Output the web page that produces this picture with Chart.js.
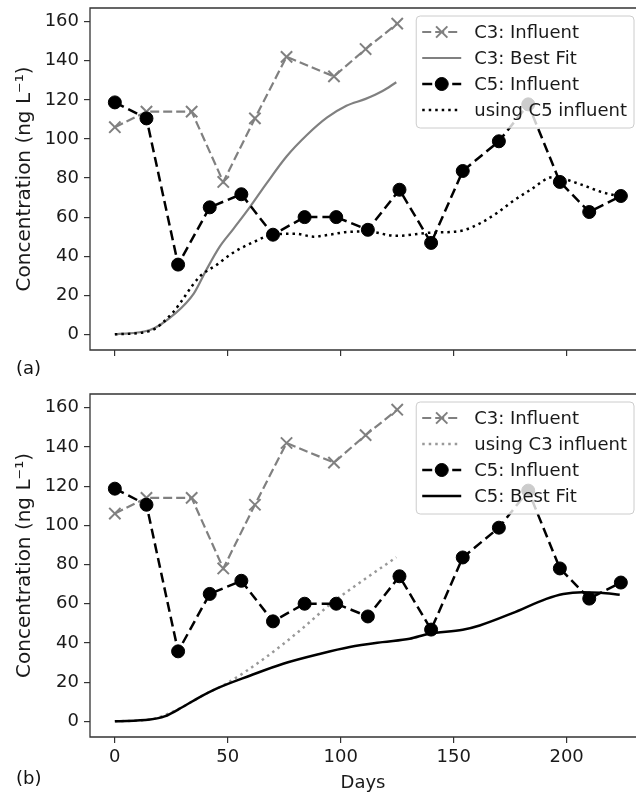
<!DOCTYPE html>
<html>
<head>
<meta charset="utf-8">
<script src="https://cdn.jsdelivr.net/npm/chart.js@4.4.0/dist/chart.umd.min.js"></script>
<style>
  html, body { margin: 0; padding: 0; background: #fff; overflow: hidden; }
  #wrap { position: relative; width: 636px; height: 796px; overflow: hidden; }
  canvas { position: absolute; left: 0; }
  #topChart { top: 0; }
  #botChart { top: 386px; }
  .panel { position: absolute; left: 16px; font: 18px 'DejaVu Sans'; color: #111; line-height: 21px; }
</style>
</head>
<body>
<div id="wrap">
  <canvas id="topChart" width="636" height="386"></canvas>
  <canvas id="botChart" width="636" height="410"></canvas>
  <div class="panel" style="top:357px">(a)</div>
  <div class="panel" style="top:767px">(b)</div>
</div>
<script>
// measured influent concentrations (ng/L) by sampling day
const c3Days = [0, 14, 34, 48, 62, 76, 97, 111, 125];
const c3Influent = [106, 114, 114, 78, 110.5, 142, 132, 146, 159];
const c5Days = [0, 14, 28, 42, 56, 70, 84, 98, 112, 126, 140, 154, 170, 183, 197, 210, 224];
const c5Influent = [118.7, 110.5, 35.7, 65, 71.7, 51, 60, 60, 53.5, 74, 46.8, 83.6, 98.8, 117.7, 78, 62.6, 70.8];

// model curves
const c3FitDays = [0, 15.5, 27, 35, 40.5, 46.5, 52.5, 60, 67, 76, 85, 94, 102.5, 111, 118.5, 124.6];
const c3Fit = [0, 2.2, 11, 21, 33, 45, 54, 65.5, 77, 91, 102, 111, 117, 120.5, 124.5, 129];
const c5ModelDays = [0, 15.5, 25.5, 37.5, 45, 52, 61, 70, 80, 88, 95, 104, 112, 124.5, 139, 150, 155, 162, 169, 176, 184, 194, 207, 215, 223.5];
const c5Model = [0, 1.7, 11, 29.5, 35.5, 41.5, 47, 51, 51.5, 50, 51, 52.5, 52.6, 50.4, 52, 52.5, 53.5, 57, 62, 68, 74, 80.5, 76.4, 73, 70.5];
const c5FitDays = [0, 15.5, 22, 30, 37, 45, 60, 74.5, 91, 104, 118.5, 130.5, 139, 154, 161.5, 176, 191, 198.5, 207, 215, 223.5];
const c5Fit = [0, 0.9, 2.5, 7.3, 12, 16.7, 23.4, 29.4, 34.5, 37.9, 40.4, 42.1, 44.7, 46.7, 48.9, 55.2, 62.5, 65, 65.9, 65.6, 64.6];
const c3ModelDays = [0, 15.5, 30, 37, 45, 48, 67, 82, 96.5, 110, 124.6];
const c3Model = [0, 0.9, 7.3, 12, 16.7, 18.3, 32.8, 46.4, 60.8, 72, 83.7];

const yTicks = [0, 20, 40, 60, 80, 100, 120, 140, 160];
const xTicks = [0, 50, 100, 150, 200];

Chart.defaults.font.family = "'DejaVu Sans', sans-serif";
Chart.defaults.font.size = 18;
Chart.defaults.color = '#1a1a1a';

function pts(xs, ys) {
    return xs.map((x, i) => ({ x: x, y: ys[i] }));
}

const c3InfluentSet = {
    label: 'C3: Influent', data: pts(c3Days, c3Influent),
    borderColor: '#808080', borderWidth: 2.2, borderDash: [9, 4],
    pointStyle: 'crossRot', pointRadius: 8, pointBorderWidth: 2,
    pointBorderColor: '#808080', pointBackgroundColor: '#808080'
};
const c5InfluentSet = {
    label: 'C5: Influent', data: pts(c5Days, c5Influent),
    borderColor: '#000', borderWidth: 2.5, borderDash: [10, 5],
    pointStyle: 'circle', pointRadius: 6.5, pointBorderWidth: 1,
    pointBorderColor: '#000', pointBackgroundColor: '#000'
};
function curve(label, xs, ys, color, width, dash) {
    return {
        label: label, data: pts(xs, ys), borderColor: color, borderWidth: width,
        borderDash: dash, pointRadius: 0, cubicInterpolationMode: 'monotone'
    };
}

// axes frame; the right side lies past the cropped edge of the figure
const frame = {
    id: 'frame',
    afterDraw(chart) {
        const a = chart.chartArea, ctx = chart.ctx;
        ctx.save();
        ctx.strokeStyle = '#333';
        ctx.lineWidth = 1.3;
        ctx.beginPath();
        ctx.moveTo(a.right + 2, a.top);
        ctx.lineTo(a.left, a.top);
        ctx.lineTo(a.left, a.bottom);
        ctx.lineTo(a.right + 2, a.bottom);
        ctx.stroke();
        ctx.restore();
    }
};

// legend drawn inside the plot, upper right
const insetLegend = {
    id: 'insetLegend',
    afterDraw(chart) {
        const ctx = chart.ctx, a = chart.chartArea;
        const sets = chart.data.datasets;
        ctx.save();
        ctx.font = "18px 'DejaVu Sans'";
        const textW = Math.max(...sets.map(d => ctx.measureText(d.label).width));
        const rowH = 26;
        const w = 58 + textW + 7, h = sets.length * rowH + 8;
        const x0 = a.right - 2 - w, y0 = a.top + 8;
        ctx.beginPath();
        ctx.roundRect(x0, y0, w, h, 4);
        ctx.fillStyle = 'rgba(255,255,255,0.8)';
        ctx.fill();
        ctx.strokeStyle = '#cccccc';
        ctx.lineWidth = 1;
        ctx.stroke();
        sets.forEach((d, i) => {
            const cy = y0 + 16 + i * rowH;
            ctx.strokeStyle = d.borderColor;
            ctx.lineWidth = d.borderWidth;
            ctx.setLineDash(d.borderDash || []);
            ctx.beginPath();
            ctx.moveTo(x0 + 6, cy);
            ctx.lineTo(x0 + 45, cy);
            ctx.stroke();
            ctx.setLineDash([]);
            if (d.pointRadius > 0) {
                ctx.fillStyle = d.pointBackgroundColor;
                ctx.strokeStyle = d.pointBorderColor;
                ctx.lineWidth = d.pointBorderWidth;
                Chart.helpers.drawPoint(ctx, { pointStyle: d.pointStyle, radius: d.pointRadius, borderWidth: d.pointBorderWidth, rotation: 0 }, x0 + 25.5, cy);
            }
            ctx.fillStyle = '#1a1a1a';
            ctx.textBaseline = 'middle';
            ctx.textAlign = 'left';
            ctx.fillText(d.label, x0 + 58, cy + 1);
        });
        ctx.restore();
    }
};

function makeChart(id, datasets, showX, axisH) {
    // later datasets drawn on top, like the plotting order
    datasets.forEach((d, i) => { d.order = datasets.length - i; d.fill = false; });
    return new Chart(document.getElementById(id), {
        type: 'line',
        data: { datasets: datasets },
        options: {
            responsive: false,
            animation: false,
            layout: { autoPadding: false, padding: { top: 8, left: 0, right: 0, bottom: 0 } },
            plugins: { legend: { display: false }, tooltip: { enabled: false } },
            scales: {
                x: {
                    type: 'linear', min: -11, max: 230.7,
                    afterFit: s => { s.height = axisH; },
                    afterBuildTicks: s => { s.ticks = xTicks.map(v => ({ value: v })); },
                    grid: { drawOnChartArea: false, drawTicks: true, tickLength: 6, color: '#333', lineWidth: 1.2 },
                    border: { display: false },
                    ticks: { display: showX, padding: 4, maxRotation: 0 },
                    title: { display: showX, text: 'Days', padding: { top: 0, bottom: 2 } }
                },
                y: {
                    min: -8, max: 167,
                    afterFit: s => { s.width = 90; },
                    afterBuildTicks: s => { s.ticks = yTicks.map(v => ({ value: v })); },
                    grid: { drawOnChartArea: false, drawTicks: true, tickLength: 6, color: '#333', lineWidth: 1.2 },
                    border: { display: false },
                    // small lineHeight keeps the top label from pushing the plot area down
                    ticks: { padding: 5, font: { lineHeight: 0.3 } },
                    title: { display: true, text: 'Concentration (ng L\u207B\u00B9)', font: { size: 20 }, padding: { top: 13, bottom: 0 } }
                }
            }
        },
        plugins: [frame, insetLegend]
    });
}

makeChart('topChart', [
    c3InfluentSet,
    curve('C3: Best Fit', c3FitDays, c3Fit, '#808080', 2.2, []),
    c5InfluentSet,
    curve('using C5 influent', c5ModelDays, c5Model, '#000', 2.5, [2.5, 4])
], false, 36);

makeChart('botChart', [
    Object.assign({}, c3InfluentSet, { data: pts(c3Days, c3Influent) }),
    curve('using C3 influent', c3ModelDays, c3Model, '#999', 2.5, [2.5, 4]),
    Object.assign({}, c5InfluentSet, { data: pts(c5Days, c5Influent) }),
    curve('C5: Best Fit', c5FitDays, c5Fit, '#000', 2.5, [])
], true, 59);
</script>
</body>
</html>
